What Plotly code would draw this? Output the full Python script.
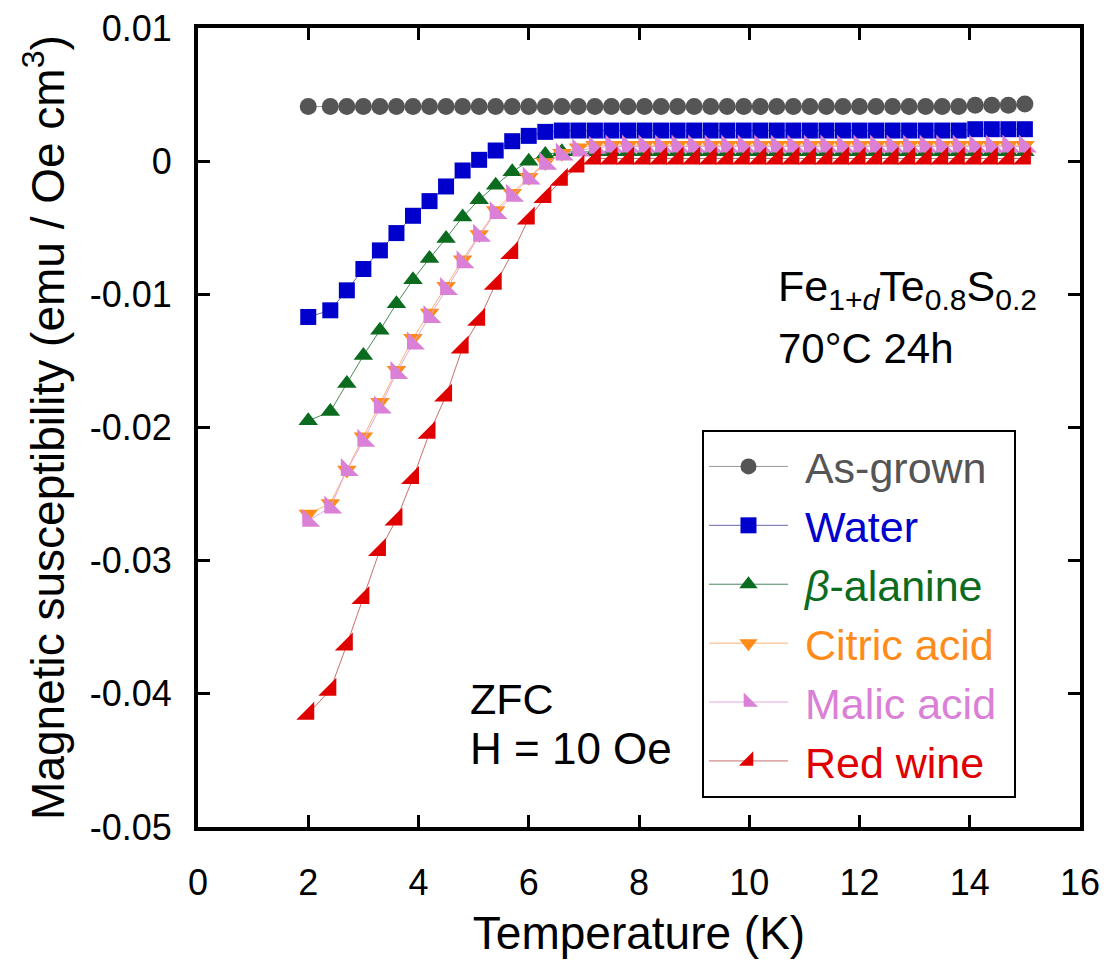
import plotly.graph_objects as go

# Temperature grid (K)
temperature = [2.0, 2.4, 2.7, 3.0, 3.3, 3.6, 3.9, 4.2, 4.5, 4.8, 5.1, 5.4, 5.7, 6.0, 6.3,
               6.6, 6.9, 7.2, 7.5, 7.8, 8.1, 8.4, 8.7, 9.0, 9.3, 9.6, 9.9, 10.2, 10.5,
               10.8, 11.1, 11.4, 11.7, 12.0, 12.3, 12.6, 12.9, 13.2, 13.5, 13.8, 14.1,
               14.4, 14.7, 15.0]

as_grown = [0.0041] * 40 + [0.0042, 0.0042, 0.0042, 0.0043]

water = [-0.0117, -0.0112, -0.0097, -0.0081, -0.0067, -0.0054, -0.0041, -0.0030, -0.0019,
         -0.0007, 0.0001, 0.0008, 0.0015, 0.0019, 0.0022, 0.0023] + [0.0023] * 24 + \
        [0.0024, 0.0024, 0.0024, 0.0024]

beta_alanine = [-0.0195, -0.0188, -0.0167, -0.0146, -0.0127, -0.0107, -0.0089, -0.0073,
                -0.0058, -0.0042, -0.0029, -0.0018, -0.0008, 0.0000, 0.0005, 0.0007] + \
               [0.0007] * 28

citric_acid = [-0.0265, -0.0257, -0.0232, -0.0207, -0.0181, -0.0157, -0.0133, -0.0114,
               -0.0094, -0.0074, -0.0055, -0.0037, -0.0024, -0.0012, -0.0001, 0.0006,
               0.0010, 0.0012] + [0.0012] * 26

malic_acid = [-0.0270, -0.0260, -0.0232, -0.0210, -0.0185, -0.0159, -0.0137, -0.0117,
              -0.0096, -0.0076, -0.0056, -0.0039, -0.0026, -0.0013, -0.0002, 0.0005,
              0.0008, 0.0010] + [0.0011] * 26

red_wine = [-0.0415, -0.0397, -0.0363, -0.0328, -0.0292, -0.0269, -0.0238, -0.0204,
            -0.0176, -0.0140, -0.0119, -0.0092, -0.0069, -0.0043, -0.0027, -0.0014,
            -0.0004, 0.0002] + [0.0002] * 26

series_names = ["As-grown", "Water", "<i>β</i>-alanine", "Citric acid", "Malic acid", "Red wine"]
series_values = [as_grown, water, beta_alanine, citric_acid, malic_acid, red_wine]
marker_colors = ["#555555", "#0000CC", "#0B6B1E", "#FF8C1A", "#DA80D6", "#E00000"]
line_colors = ["#9a9a9a", "#6a6ab0", "#4a8a5a", "#FFB070", "#E0A8DE", "#C87070"]
symbols = ["circle", "square", "triangle-up", "triangle-down", "triangle-sw", "triangle-se"]
sizes = [17, 16, 17, 17, 20, 20]

x_ticks = [0, 2, 4, 6, 8, 10, 12, 14, 16]
y_ticks = [-0.05, -0.04, -0.03, -0.02, -0.01, 0, 0.01]
y_ticklabels = ["-0.05", "-0.04", "-0.03", "-0.02", "-0.01", "0", "0.01"]

FONT = "Arial, Liberation Sans, sans-serif"

fig = go.Figure()
for i, (name, vals) in enumerate(zip(series_names, series_values)):
    fig.add_trace(go.Scatter(
        x=temperature, y=vals, mode="lines+markers",
        name=f"<span style='color:{marker_colors[i]}'>&nbsp;{name}&nbsp;</span>",
        legendgroup=f"g{i}",
        line=dict(color=line_colors[i], width=1),
        marker=dict(symbol=symbols[i], size=sizes[i], color=marker_colors[i],
                    line=dict(width=0)),
        cliponaxis=False,
    ))

axis_common = dict(
    showline=True, linecolor="black", linewidth=4, mirror="ticks",
    ticks="inside", ticklen=12, tickwidth=3, tickcolor="black",
    showgrid=False, zeroline=False,
    tickfont=dict(family=FONT, size=36, color="black"),
)

fig.update_layout(
    width=1109, height=963,
    margin=dict(l=198, r=29, t=28, b=136, autoexpand=False),
    paper_bgcolor="white", plot_bgcolor="white",
    font=dict(family=FONT, color="black"),
    xaxis=dict(range=[0, 16], tickvals=x_ticks, ticktext=[str(v) for v in x_ticks],
               ticklabelstandoff=21,
               title=dict(text="Temperature (K)", font=dict(family=FONT, size=46), standoff=16),
               **axis_common),
    yaxis=dict(range=[-0.05, 0.01], tickvals=y_ticks, ticktext=y_ticklabels,
               ticklabelstandoff=15,
               title=dict(text="Magnetic susceptibility (emu / Oe cm<sup>3</sup>)",
                          font=dict(family=FONT, size=46), standoff=12),
               **axis_common),
    showlegend=True,
    legend=dict(
        x=0.5714, y=0.4969, xanchor="left", yanchor="top",
        bgcolor="white", bordercolor="black", borderwidth=2,
        font=dict(family=FONT, size=43),
        itemwidth=79, tracegroupgap=0,
    ),
)

fig.add_annotation(
    x=10.48, y=-0.0096, xref="x", yref="y", xanchor="left", yanchor="middle",
    text="Fe<sub>1+<i>d</i></sub>Te<sub>0.8</sub>S<sub>0.2</sub>", showarrow=False,
    font=dict(family=FONT, size=43, color="black"),
)
fig.add_annotation(
    x=10.48, y=-0.0141, xref="x", yref="y", xanchor="left", yanchor="middle",
    text="70°C 24h", showarrow=False,
    font=dict(family=FONT, size=42, color="black"),
)
fig.add_annotation(
    x=4.89, y=-0.0404, xref="x", yref="y", xanchor="left", yanchor="middle",
    text="ZFC", showarrow=False, font=dict(family=FONT, size=43, color="black"),
)
fig.add_annotation(
    x=4.89, y=-0.0441, xref="x", yref="y", xanchor="left", yanchor="middle",
    text="H = 10 Oe", showarrow=False, font=dict(family=FONT, size=44, color="black"),
)

fig.write_html("out.html", config={"displayModeBar": False},
               post_script="document.body.style.margin='0px';")
